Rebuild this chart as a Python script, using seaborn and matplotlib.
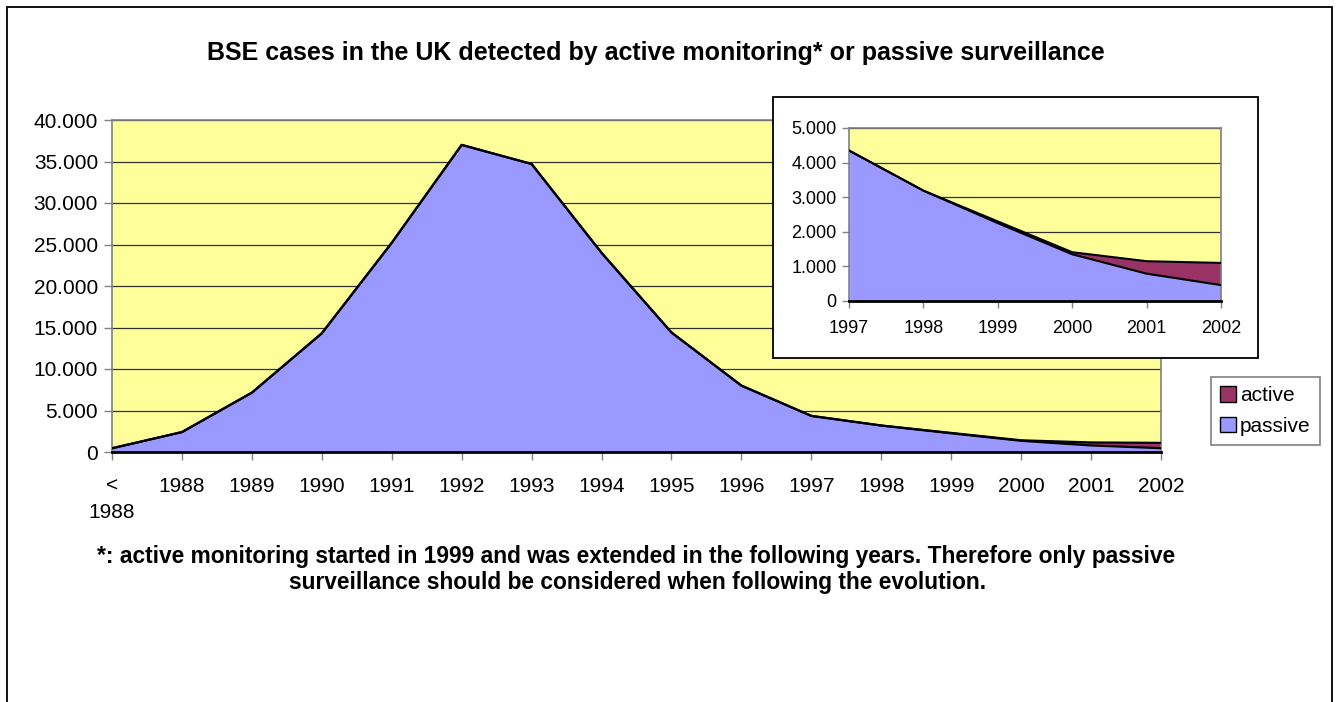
import numpy as np
import pandas as pd
import matplotlib
matplotlib.use("Agg")
import matplotlib.pyplot as plt
import seaborn as sns
from matplotlib.patches import Rectangle, Patch
from matplotlib.ticker import FuncFormatter, MultipleLocator

# Data
years = ["<\n1988", "1988", "1989", "1990", "1991", "1992", "1993", "1994",
         "1995", "1996", "1997", "1998", "1999", "2000", "2001", "2002"]
passive = [450, 2400, 7150, 14300, 25200, 37000, 34700, 24000,
           14400, 8000, 4350, 3190, 2250, 1350, 790, 460]
active = [0, 0, 0, 0, 0, 0, 0, 0,
          0, 0, 0, 0, 50, 60, 360, 640]

inset_years = ["1997", "1998", "1999", "2000", "2001", "2002"]
inset_passive = passive[10:]
inset_active = active[10:]

PASSIVE_C = "#9999FF"
ACTIVE_C = "#993366"
PLOT_BG = "#FFFF99"


def thousands(v, pos):
    return f"{int(round(v)):,}".replace(",", ".")


def stacked_area(ax, labels, pas, act, lw):
    df = pd.DataFrame({"x": np.arange(len(labels)), "passive": pas, "active": act})
    df["total"] = df["passive"] + df["active"]
    ax.fill_between(df["x"], 0, df["passive"], color=PASSIVE_C, lw=0, zorder=2)
    ax.fill_between(df["x"], df["passive"], df["total"], color=ACTIVE_C, lw=0, zorder=2)
    sns.lineplot(data=df, x="x", y="total", color="black", lw=lw, ax=ax, zorder=3)
    sns.lineplot(data=df, x="x", y="passive", color="black", lw=lw, ax=ax, zorder=3)
    ax.set_xlim(0, len(labels) - 1)
    ax.set_xticks(df["x"])
    ax.set_xticklabels(labels)
    ax.set_xlabel("")
    ax.set_ylabel("")
    ax.set_facecolor(PLOT_BG)
    ax.yaxis.set_major_formatter(FuncFormatter(thousands))
    ax.grid(axis="y", color="#303030", lw=0.9, zorder=1)
    ax.grid(axis="x", visible=False)
    ax.set_axisbelow(True)
    for side in ["top", "right", "left"]:
        ax.spines[side].set_color("#808080")
        ax.spines[side].set_linewidth(1.2)
    ax.spines["bottom"].set_color("black")
    ax.spines["bottom"].set_linewidth(2)
    ax.tick_params(axis="both", direction="out", length=6, width=1, color="#808080",
                   left=True, bottom=True)


sns.set_theme(style="white")
plt.rcParams["font.family"] = ["Liberation Sans", "DejaVu Sans"]
plt.rcParams["text.color"] = "black"

fig = plt.figure(figsize=(13.38, 7.02), dpi=100)
W, H = 1338, 702

# outer frame
fig.patches.append(Rectangle((7 / W, -0.01), (1332 - 7) / W, 1.01 - 7 / H,
                             transform=fig.transFigure, fill=False,
                             ec="black", lw=1.3))

# main chart
ax = fig.add_axes([112 / W, 1 - 452 / H, (1161 - 112) / W, (452 - 120) / H])
stacked_area(ax, years, passive, active, lw=1.6)
ax.set_ylim(0, 40000)
ax.yaxis.set_major_locator(MultipleLocator(5000))
ax.tick_params(axis="y", labelsize=15, colors="black", pad=4)
ax.tick_params(axis="x", labelsize=15, colors="black", pad=12)
ax.tick_params(axis="both", color="#808080")
for lbl in ax.get_xticklabels():
    lbl.set_linespacing(1.5)

fig.text(656 / W, 1 - 53 / H,
         "BSE cases in the UK detected by active monitoring* or passive surveillance",
         ha="center", va="center", fontsize=18, fontweight="bold")

fig.text(636 / W, 1 - 556 / H,
         "*: active monitoring started in 1999 and was extended in the following years. Therefore only passive",
         ha="center", va="center", fontsize=16.4, fontweight="bold")
fig.text(638 / W, 1 - 582 / H,
         "surveillance should be considered when following the evolution.",
         ha="center", va="center", fontsize=16.4, fontweight="bold")

# legend
handles = [Patch(facecolor=ACTIVE_C, edgecolor="black", lw=1, label="active"),
           Patch(facecolor=PASSIVE_C, edgecolor="black", lw=1, label="passive")]
leg = fig.legend(handles=handles, loc="upper left",
                 bbox_to_anchor=(1211 / W, 1 - 377 / H),
                 frameon=True, fancybox=False, fontsize=15,
                 handlelength=0.75, handleheight=0.75, handletextpad=0.2,
                 borderpad=0.45, labelspacing=0.55, borderaxespad=0)
leg.get_frame().set_edgecolor("#606060")
leg.get_frame().set_linewidth(1.2)

# inset box
fig.patches.append(Rectangle((773 / W, 1 - 358 / H), (1258 - 773) / W, (358 - 97) / H,
                             transform=fig.transFigure, fc="white",
                             ec="black", lw=1.3, zorder=5))

ax2 = fig.add_axes([849 / W, 1 - 301 / H, (1221 - 849) / W, (301 - 128) / H])
ax2.set_zorder(6)
stacked_area(ax2, inset_years, inset_passive, inset_active, lw=1.5)
ax2.set_ylim(0, 5000)
ax2.yaxis.set_major_locator(MultipleLocator(1000))
ax2.tick_params(axis="y", labelsize=13, colors="black", pad=4, length=5)
ax2.tick_params(axis="x", labelsize=13, colors="black", pad=9, length=5)
ax2.tick_params(axis="both", color="#808080")

fig.savefig("out.png", dpi=100)
